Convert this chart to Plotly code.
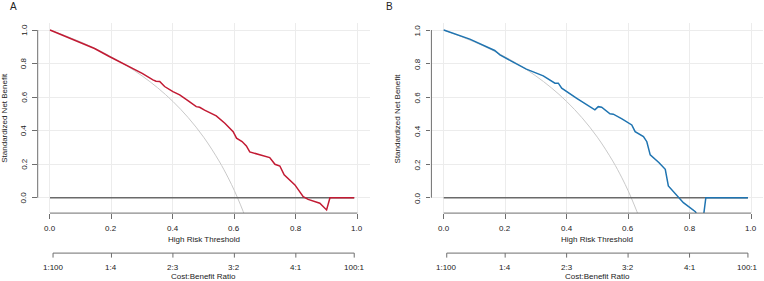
import plotly.graph_objects as go

# ---------------- data ----------------
thr_a = [0.0, 0.05, 0.095, 0.145, 0.193, 0.235, 0.269, 0.30, 0.335, 0.345, 0.357, 0.373,
         0.40, 0.422, 0.45, 0.476, 0.487, 0.503, 0.541, 0.569, 0.596, 0.607, 0.625, 0.639,
         0.65, 0.666, 0.699, 0.715, 0.732, 0.748, 0.762, 0.78, 0.797, 0.824, 0.84, 0.878,
         0.90, 0.911, 0.99]
nb_a = [1.0, 0.963, 0.931, 0.890, 0.842, 0.803, 0.772, 0.742, 0.703, 0.695, 0.693, 0.663,
        0.633, 0.613, 0.578, 0.543, 0.539, 0.522, 0.488, 0.444, 0.394, 0.355, 0.335, 0.309,
        0.273, 0.265, 0.245, 0.239, 0.199, 0.189, 0.136, 0.105, 0.076, 0.006, -0.01, -0.033,
        -0.073, 0.0, 0.0]

thr_b = [0.0, 0.085, 0.166, 0.183, 0.22, 0.269, 0.324, 0.362, 0.373, 0.384, 0.433, 0.481,
         0.492, 0.503, 0.514, 0.541, 0.552, 0.58, 0.612, 0.623, 0.65, 0.661, 0.672, 0.70,
         0.721, 0.731, 0.764, 0.78, 0.819, 0.842, 0.853, 0.99]
nb_b = [1.0, 0.946, 0.878, 0.852, 0.815, 0.767, 0.727, 0.683, 0.683, 0.653, 0.593, 0.534,
        0.524, 0.543, 0.540, 0.50, 0.498, 0.47, 0.434, 0.394, 0.364, 0.334, 0.255, 0.21,
        0.169, 0.070, 0.002, -0.03, -0.084, -0.16, 0.0, 0.0]

# "All" strategy curve (same in both panels)
thr_all = [0.0, 0.05, 0.1, 0.15, 0.2, 0.25, 0.3, 0.35, 0.4, 0.45, 0.5, 0.55, 0.58, 0.6, 0.62, 0.64]
nb_all = [1.0, 0.966, 0.929, 0.887, 0.840, 0.787, 0.726, 0.656, 0.574, 0.477, 0.361, 0.219,
          0.118, 0.042, -0.043, -0.136]

# "None" strategy
thr_none = [0.0, 0.99]
nb_none = [0.0, 0.0]

x_ticks = [0.0, 0.2, 0.4, 0.6, 0.8, 1.0]
x_ticklabels = ["0.0", "0.2", "0.4", "0.6", "0.8", "1.0"]
y_ticks = [0.0, 0.2, 0.4, 0.6, 0.8, 1.0]
y_ticklabels = ["0.0", "0.2", "0.4", "0.6", "0.8", "1.0"]
cb_ticks = [0.0099, 0.2, 0.4, 0.6, 0.8, 0.99]
cb_ticklabels = ["1:100", "1:4", "2:3", "3:2", "4:1", "100:1"]

panels = ["A", "B"]
model_colors = ["#C21A33", "#1F74B1"]

# ---------------- styling ----------------
W, H = 764, 281
FONT = "Liberation Sans, Arial, sans-serif"
TXT = "#222222"
AXC = "#6E6E6E"
GRID = "#ECECEC"

fig = go.Figure()

x_domains = [[37.7 / W, 369.6 / W], [431.4 / W, 763.3 / W]]
y_domain = [(H - 213.1) / H, (H - 23.0) / H]

curves = [(thr_a, nb_a), (thr_b, nb_b)]
for i in range(2):
    xa = "x" if i == 0 else "x2"
    ya = "y" if i == 0 else "y2"
    fig.add_trace(go.Scatter(x=thr_all, y=nb_all, mode="lines", line=dict(color="#C9C9C9", width=1, shape="spline"),
                             xaxis=xa, yaxis=ya, showlegend=False, hoverinfo="skip"))
    fig.add_trace(go.Scatter(x=thr_none, y=nb_none, mode="lines", line=dict(color="#6A6A6A", width=1.4),
                             xaxis=xa, yaxis=ya, showlegend=False, hoverinfo="skip"))
    fig.add_trace(go.Scatter(x=curves[i][0], y=curves[i][1], mode="lines",
                             line=dict(color=model_colors[i], width=1.5),
                             xaxis=xa, yaxis=ya, showlegend=False))

axis_common = dict(showgrid=True, gridcolor=GRID, gridwidth=1, zeroline=False, showline=False,
                   ticks="outside", ticklen=4.5, tickwidth=1, tickcolor=AXC, showticklabels=False)

for i in range(2):
    sx = "" if i == 0 else "2"
    fig.update_layout(**{
        "xaxis" + sx: dict(domain=x_domains[i], range=[-0.04, 1.04], tickvals=x_ticks,
                           anchor="y" + sx, **axis_common),
        "yaxis" + sx: dict(domain=y_domain, range=[-0.092, 1.042], tickvals=y_ticks,
                           anchor="x" + sx, **axis_common),
    })

shapes = []
annotations = []
tfont = dict(family=FONT, size=8, color=TXT)
for i in range(2):
    xr = "x" if i == 0 else "x2"
    yr = "y" if i == 0 else "y2"
    # y axis line (0..1)
    shapes.append(dict(type="line", xref=xr + " domain", xsizemode="pixel", xanchor=0, x0=0, x1=0,
                       yref=yr, y0=y_ticks[0], y1=y_ticks[-1], line=dict(color=AXC, width=1)))
    # threshold axis line (0..1)
    shapes.append(dict(type="line", xref=xr, x0=x_ticks[0], x1=x_ticks[-1],
                       yref=yr + " domain", ysizemode="pixel", yanchor=0, y0=0, y1=0,
                       line=dict(color=AXC, width=1)))
    # cost:benefit axis line and ticks
    shapes.append(dict(type="line", xref=xr, x0=cb_ticks[0], x1=cb_ticks[-1],
                       yref=yr + " domain", ysizemode="pixel", yanchor=0, y0=-40, y1=-40,
                       line=dict(color=AXC, width=1)))
    for v, lab in zip(cb_ticks, cb_ticklabels):
        shapes.append(dict(type="line", xref=xr, x0=v, x1=v,
                           yref=yr + " domain", ysizemode="pixel", yanchor=0, y0=-40, y1=-44.5,
                           line=dict(color=AXC, width=1)))
        annotations.append(dict(xref=xr, x=v, yref=yr + " domain", y=0, yshift=-54, text=lab,
                                showarrow=False, font=tfont, xanchor="center", yanchor="middle"))
    for v, lab in zip(x_ticks, x_ticklabels):
        annotations.append(dict(xref=xr, x=v, yref=yr + " domain", y=0, yshift=-15.6, text=lab,
                                showarrow=False, font=tfont, xanchor="center", yanchor="middle"))
    for v, lab in zip(y_ticks, y_ticklabels):
        annotations.append(dict(xref=xr + " domain", x=0, xshift=-14, yref=yr, y=v, text=lab,
                                textangle=-90, showarrow=False, font=tfont,
                                xanchor="center", yanchor="middle"))
    annotations.append(dict(xref=xr, x=0.5, yref=yr + " domain", y=0, yshift=-26.6,
                            text="High Risk Threshold", showarrow=False, font=tfont,
                            xanchor="center", yanchor="middle"))
    annotations.append(dict(xref=xr, x=0.5, yref=yr + " domain", y=0, yshift=-63.2,
                            text="Cost:Benefit Ratio", showarrow=False, font=tfont,
                            xanchor="center", yanchor="middle"))
    annotations.append(dict(xref=xr + " domain", x=0, xshift=-34, yref=yr + " domain", y=0.5,
                            text="Standardized Net Benefit", textangle=-90, showarrow=False,
                            font=tfont, xanchor="center", yanchor="middle"))

annotations.append(dict(xref="paper", x=13 / W, yref="paper", y=1 - 6 / H, text=panels[0],
                        showarrow=False, font=dict(family=FONT, size=10, color=TXT),
                        xanchor="center", yanchor="middle"))
annotations.append(dict(xref="paper", x=389 / W, yref="paper", y=1 - 6 / H, text=panels[1],
                        showarrow=False, font=dict(family=FONT, size=10, color=TXT),
                        xanchor="center", yanchor="middle"))

fig.update_layout(width=W, height=H, margin=dict(l=0, r=0, t=0, b=0),
                  paper_bgcolor="white", plot_bgcolor="white",
                  shapes=shapes, annotations=annotations, showlegend=False,
                  font=dict(family=FONT, size=8, color=TXT))

fig.write_html("out.html")
